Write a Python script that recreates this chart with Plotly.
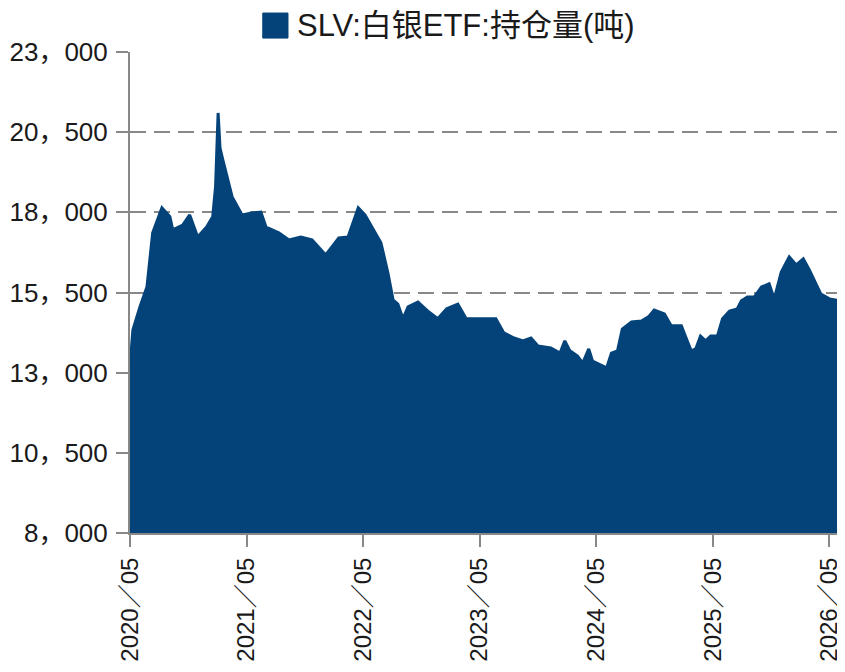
import plotly.graph_objects as go

# SLV silver ETF holdings (tonnes)
dates = [
    "2020-05-01", "2020-05-10", "2020-06-01", "2020-06-23", "2020-07-11", "2020-08-09",
    "2020-09-03", "2020-09-12", "2020-10-13", "2020-11-04", "2020-11-29", "2020-12-27",
    "2021-01-15", "2021-01-24", "2021-02-01", "2021-02-07", "2021-02-16", "2021-03-17",
    "2021-04-17", "2021-05-18", "2021-06-15", "2021-07-01", "2021-08-10", "2021-09-11",
    "2021-10-18", "2021-11-22", "2022-01-04", "2022-02-14", "2022-03-15", "2022-04-16",
    "2022-05-07", "2022-06-08", "2022-06-26", "2022-07-18", "2022-08-03", "2022-08-18",
    "2022-09-03", "2022-09-19", "2022-10-20", "2022-11-20", "2022-12-21", "2023-01-18",
    "2023-02-22", "2023-03-20", "2023-04-14", "2023-05-21", "2023-06-21", "2023-07-16",
    "2023-08-17", "2023-09-14", "2023-10-09", "2023-10-31", "2023-12-10", "2024-01-08",
    "2024-01-23", "2024-02-08", "2024-03-03", "2024-03-19", "2024-04-07", "2024-04-19",
    "2024-05-10", "2024-06-02", "2024-06-17", "2024-07-06", "2024-07-21", "2024-08-19",
    "2024-09-19", "2024-10-11", "2024-10-29", "2024-11-30", "2024-12-21", "2025-01-22",
    "2025-02-13", "2025-02-22", "2025-03-08", "2025-03-23", "2025-04-08", "2025-04-24",
    "2025-05-15", "2025-05-31", "2025-06-22", "2025-07-16", "2025-07-29", "2025-08-17",
    "2025-09-08", "2025-09-30", "2025-10-24", "2025-11-09", "2025-12-01", "2025-12-26",
    "2026-01-17", "2026-02-08", "2026-02-27", "2026-03-19", "2026-04-04", "2026-05-01",
    "2026-06-03",
]
holdings = [
    13180, 14330, 15050, 15670, 17360, 18140,
    17860, 17450, 17600, 17920, 17230, 17540,
    17860, 18800, 21100, 20000, 19630, 18480,
    17920, 17980, 18010, 17540, 17360, 17140,
    17230, 17140, 16670, 17200, 17230, 18140,
    17920, 17360, 17050, 16110, 15270, 15140,
    14680, 15050, 15200, 14920, 14680, 14990,
    15140, 14680, 14680, 14680, 14680, 14240,
    14080, 13990, 14080, 13830, 13770, 13610,
    13990, 13680, 13520, 13300, 13740, 13360,
    13270, 13150, 13610, 13680, 14360, 14580,
    14610, 14740, 14950, 14830, 14460, 14460,
    13900, 13680, 13740, 14140, 13990, 14140,
    14140, 14680, 14920, 14990, 15240, 15360,
    15360, 15670, 15770, 15300, 16140, 16610,
    16360, 16550, 16200, 15770, 15450, 15300,
    15240,
]

y_ticks = [8000, 10500, 13000, 15500, 18000, 20500, 23000]
y_labels = ["8，000", "10，500", "13，000", "15，500", "18，000", "20，500", "23，000"]
x_ticks = ["2020-05-01", "2021-05-01", "2022-05-01", "2023-05-01",
           "2024-05-01", "2025-05-01", "2026-05-01"]
x_labels = ["2020／05", "2021／05", "2022／05", "2023／05", "2024／05", "2025／05", "2026／05"]
series_name = "SLV:白银ETF:持仓量(吨)"

blue = "#03437A"
grey = "#888888"
font = "Liberation Sans, Arial, Noto Sans CJK SC, sans-serif"

fig = go.Figure()
fig.add_trace(go.Scatter(
    x=dates, y=holdings,
    mode="lines",
    fill="tozeroy",
    fillcolor=blue,
    line=dict(color=blue, width=3),
    name=series_name,
    showlegend=False,
))

# legend drawn by hand: plotly caps legend marker size well below this square
fig.add_shape(
    type="rect", xref="paper", yref="paper",
    x0=0.187, x1=0.2225, y0=1.029, y1=1.081,
    fillcolor=blue, line=dict(color=blue, width=1),
)
fig.add_annotation(
    text=series_name, xref="paper", yref="paper",
    x=0.232, y=1.056, xanchor="left", yanchor="middle",
    showarrow=False, font=dict(size=31, color="#1a1a1a"),
)

axis_common = dict(
    showline=True,
    linecolor=grey,
    linewidth=2,
    ticks="outside",
    ticklen=12,
    tickwidth=2,
    tickcolor=grey,
    zeroline=False,
    automargin=False,
)

# page body has an 8px margin, so the plot box is shifted by that much
fig.update_layout(
    width=845, height=672,
    margin=dict(l=122, r=13, t=44, b=147),
    plot_bgcolor="white",
    paper_bgcolor="white",
    font=dict(family=font, size=26, color="#1a1a1a"),
    showlegend=False,
    xaxis=dict(
        type="date",
        range=["2020-05-01", "2026-06-03"],
        tickvals=x_ticks,
        ticktext=x_labels,
        tickangle=-90,
        showgrid=False,
        ticklabeloverflow="allow",
        ticklabelstandoff=1,
        tickfont=dict(size=24),
        **axis_common,
    ),
    yaxis=dict(
        range=[8000, 23000],
        tickvals=y_ticks,
        ticktext=y_labels,
        showgrid=True,
        gridcolor=grey,
        gridwidth=2,
        griddash="16px,8px",
        ticklabelstandoff=3,
        tickfont=dict(size=26),
        **axis_common,
    ),
)

fig.write_html("out.html")
